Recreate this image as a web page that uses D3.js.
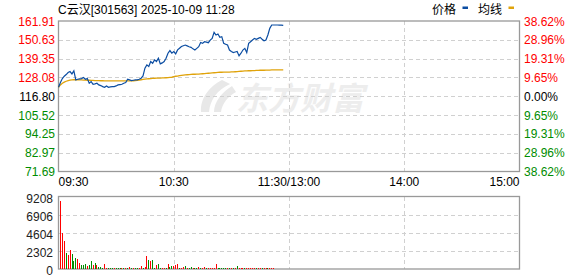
<!DOCTYPE html>
<html>
<head>
<meta charset="utf-8">
<script src="https://cdn.jsdelivr.net/npm/d3@7/dist/d3.min.js"></script>
<style>
  body { margin: 0; background: #fff; }
  svg text { font-family: "Liberation Sans", Arial, "Noto Sans CJK SC", sans-serif; font-size: 12px; }
</style>
</head>
<body>
<div id="chart"></div>
<script>
// C云汉 [301563] intraday chart, 2025-10-09 up to 11:28

const title = 'C云汉[301563] 2025-10-09 11:28';
const preClose = 116.80;

// price ticks (left) and percent ticks (right)
const priceTicks = [161.91, 150.63, 139.35, 128.08, 116.80, 105.52, 94.25, 82.97, 71.69];
const pctTicks = ['38.62%', '28.96%', '19.31%', '9.65%', '0.00%', '9.65%', '19.31%', '28.96%', '38.62%'];
const volTicks = [0, 2302, 4604, 6906, 9208];
const timeTicks = [
    { m: 0, label: '09:30', anchor: 'start' },
    { m: 60, label: '10:30', anchor: 'middle' },
    { m: 120, label: '11:30/13:00', anchor: 'middle' },
    { m: 180, label: '14:00', anchor: 'middle' },
    { m: 240, label: '15:00', anchor: 'end' }
];

// one value per minute from 09:30
const prices = [
    122.2, 125.0, 127.4, 128.8, 129.8, 131.0, 131.6, 130.2, 132.0, 126.6,
    127.0, 127.2, 127.4, 128.0, 127.0, 127.4, 124.6, 125.6, 124.0, 124.2,
    124.6, 123.6, 123.2, 122.6, 122.2, 123.0, 122.2, 122.4, 122.6, 122.6,
    123.0, 123.6, 123.8, 124.0, 124.6, 125.0, 127.0, 126.6, 126.2, 126.4,
    126.6, 126.6, 127.0, 127.6, 129.0, 133.6, 135.6, 134.6, 137.6, 136.6,
    138.6, 137.6, 139.6, 136.2, 136.8, 137.6, 139.6, 142.6, 144.2, 142.6,
    143.6, 142.2, 144.6, 145.6, 146.6, 147.1, 147.5, 147.0, 146.5, 146.1,
    145.2, 144.5, 145.5, 146.5, 149.0, 148.5, 149.5, 149.2, 148.9, 150.5,
    151.5, 155.1, 153.5, 154.1, 152.1, 152.5, 148.5, 148.0, 147.5, 144.5,
    143.6, 143.0, 143.3, 143.6, 141.0, 142.6, 144.5, 145.5, 143.0, 148.5,
    149.5, 150.5, 151.5, 150.9, 151.5, 152.1, 151.0, 150.1, 150.5, 153.5,
    157.5, 159.5, 159.5, 159.5, 159.5, 159.4, 159.4, 159.3
];

const avgPrices = [
    122.2, 123.6, 124.6, 125.3, 125.8, 126.2, 126.5, 126.6, 126.7, 126.7,
    126.7, 126.6, 126.6, 126.5, 126.5, 126.4, 126.4, 126.3, 126.3, 126.2,
    126.2, 126.2, 126.1, 126.1, 126.0, 126.0, 126.0, 126.0, 126.0, 126.0,
    126.0, 126.0, 126.0, 126.0, 126.0, 126.0, 126.0, 126.0, 126.0, 126.1,
    126.2, 126.3, 126.5, 126.7, 126.9, 127.1, 127.2, 127.3, 127.4, 127.5,
    127.6, 127.7, 127.7, 127.7, 127.8, 127.8, 127.9, 128.0, 128.1, 128.2,
    128.5, 128.8, 128.9, 129.1, 129.3, 129.5, 129.6, 129.7, 129.8, 129.9,
    130.0, 130.0, 130.1, 130.1, 130.2, 130.3, 130.4, 130.5, 130.6, 130.7,
    130.8, 130.9, 131.0, 131.1, 131.2, 131.2, 131.3, 131.3, 131.3, 131.3,
    131.4, 131.4, 131.5, 131.6, 131.7, 131.8, 131.9, 132.0, 132.0, 132.1,
    132.1, 132.2, 132.2, 132.3, 132.3, 132.4, 132.4, 132.4, 132.5, 132.5,
    132.5, 132.6, 132.6, 132.6, 132.6, 132.6, 132.6, 132.6
];

const volumes = [
    8640, 4530, 3520, 1990, 1740, 2370, 1860, 980, 1360, 1230,
    720, 470, 470, 590, 340, 470, 980, 470, 720, 470,
    210, 210, 120, 590, 90, 150, 120, 100, 110, 90,
    120, 100, 130, 150, 100, 180, 220, 140, 120, 100,
    100, 100, 340, 100, 260, 1610, 1100, 980, 1100, 100,
    470, 590, 100, 100, 100, 100, 590, 260, 340, 340,
    470, 590, 170, 100, 260, 340, 100, 100, 210, 100,
    100, 100, 210, 100, 100, 210, 100, 100, 100, 100,
    100, 590, 100, 100, 120, 100, 100, 100, 100, 100,
    120, 100, 380, 100, 100, 100, 100, 100, 100, 100,
    100, 100, 100, 100, 100, 100, 100, 100, 100, 100,
    100, 100, 0, 0, 0, 0, 0, 0
];

// R = up minute (red bar), G = down minute (green bar)
const volDir = 'RRRGRRGGGR' + 'RGGGRGGRGR' + 'GGGRRGGGRG' + 'GGRGRGRGRG' +
    'GRRGRRGRGG' + 'RGGRRGRGGR' + 'RRGRRGRGGR' + 'GGRGRRGRRR' +
    'RRGGGGGRGR' + 'GRGRRRGRRR' + 'RRGRRGRRGR' + 'RRRRRRRR';

const W = 578, H = 276;
const plot = { left: 58.5, right: 519.5, top: 21, bottom: 171.5 };
const vol = { top: 196.5, bottom: 269 };

const red = '#ff0000', green = '#008c00', gridColor = '#d0d0d0', borderColor = '#999';

const svg = d3.select('#chart').append('svg')
    .attr('width', W)
    .attr('height', H);

svg.append('rect').attr('width', W).attr('height', H).attr('fill', '#fff');

const x = d3.scaleLinear().domain([0, 240]).range([plot.left, plot.right]);
const y = d3.scaleLinear().domain([71.69, 161.91]).range([plot.bottom, plot.top]);
const yv = d3.scaleLinear().domain([0, 9208]).range([vol.bottom, vol.top]);

// watermark
const wm = svg.append('g').attr('fill', '#ededed');
wm.append('path')
    .attr('d', 'M222,80 C210,86 200,98 201,112 L209,112 C210,100 217,90 230,84 Z M232,86 C222,92 214,102 214,112 L221,112 C222,104 228,96 236,92 Z')
    .attr('fill', '#e8e8e8');
wm.append('text')
    .attr('x', 236).attr('y', 110)
    .style('font-family', '"Noto Sans CJK SC", sans-serif')
    .style('font-size', '32px')
    .style('font-weight', 'bold')
    .style('font-style', 'italic')
    .text('东方财富');

// grid lines - main
const grid = svg.append('g')
    .attr('stroke', gridColor)
    .attr('stroke-dasharray', '4,3')
    .attr('shape-rendering', 'crispEdges');

priceTicks.slice(1, -1).forEach(v => {
    grid.append('line')
        .attr('x1', plot.left).attr('x2', plot.right)
        .attr('y1', Math.round(y(v)) + 0.5).attr('y2', Math.round(y(v)) + 0.5);
});
[60, 120, 180].forEach(m => {
    grid.append('line')
        .attr('x1', Math.round(x(m)) + 0.5).attr('x2', Math.round(x(m)) + 0.5)
        .attr('y1', plot.top).attr('y2', plot.bottom);
    grid.append('line')
        .attr('x1', Math.round(x(m)) + 0.5).attr('x2', Math.round(x(m)) + 0.5)
        .attr('y1', vol.top).attr('y2', vol.bottom);
});
volTicks.slice(1, -1).forEach(v => {
    grid.append('line')
        .attr('x1', plot.left).attr('x2', plot.right)
        .attr('y1', Math.round(yv(v)) + 0.5).attr('y2', Math.round(yv(v)) + 0.5);
});

// borders
svg.append('rect')
    .attr('x', plot.left).attr('y', plot.top)
    .attr('width', plot.right - plot.left).attr('height', plot.bottom - plot.top)
    .attr('fill', 'none').attr('stroke', borderColor).attr('stroke-width', 1.3);
svg.append('rect')
    .attr('x', plot.left).attr('y', vol.top)
    .attr('width', plot.right - plot.left).attr('height', vol.bottom - vol.top)
    .attr('fill', 'none').attr('stroke', borderColor).attr('stroke-width', 1.3);

// average and price lines
const lineGen = d3.line()
    .x((d, i) => x(i))
    .y(d => y(d));

svg.append('path')
    .datum(avgPrices)
    .attr('d', lineGen)
    .attr('fill', 'none')
    .attr('stroke', '#e0a30b')
    .attr('stroke-width', 1.3);

svg.append('path')
    .datum(prices)
    .attr('d', lineGen)
    .attr('fill', 'none')
    .attr('stroke', '#0b4da2')
    .attr('stroke-width', 1.2);

// volume bars
svg.append('g')
    .attr('shape-rendering', 'crispEdges')
    .selectAll('rect')
    .data(volumes)
    .enter()
    .append('rect')
    .attr('x', (d, i) => Math.round(x(i) + 1.5))
    .attr('y', d => yv(d))
    .attr('width', 1)
    .attr('height', d => vol.bottom - yv(d))
    .attr('fill', (d, i) => volDir[i] === 'R' ? red : green);

// left price labels
svg.append('g').selectAll('text')
    .data(priceTicks)
    .enter()
    .append('text')
    .attr('x', 55)
    .attr('y', d => y(d) + 4.5)
    .attr('text-anchor', 'end')
    .attr('fill', d => d > preClose ? red : (d < preClose ? green : '#000'))
    .text(d => d.toFixed(2));

// right percent labels
svg.append('g').selectAll('text')
    .data(pctTicks)
    .enter()
    .append('text')
    .attr('x', 524)
    .attr('y', (d, i) => y(priceTicks[i]) + 4.5)
    .attr('fill', (d, i) => i < 4 ? red : (i > 4 ? green : '#000'))
    .text(d => d);

// volume labels
svg.append('g').selectAll('text')
    .data(volTicks)
    .enter()
    .append('text')
    .attr('x', 53)
    .attr('y', d => Math.min(yv(d) + 6.5, 274.5))
    .attr('text-anchor', 'end')
    .attr('fill', '#222')
    .text(d => d);

// time labels
svg.append('g').selectAll('text')
    .data(timeTicks)
    .enter()
    .append('text')
    .attr('x', d => x(d.m))
    .attr('y', 186)
    .attr('text-anchor', d => d.anchor)
    .attr('fill', '#000')
    .text(d => d.label);

// title
svg.append('text')
    .attr('x', 58)
    .attr('y', 13.5)
    .attr('fill', '#000')
    .text(title);

// legend
const legend = [
    { text: '价格', color: '#0b4da2', x: 432 },
    { text: '均线', color: '#e0a30b', x: 478 }
];
const lg = svg.append('g').selectAll('g')
    .data(legend)
    .enter()
    .append('g')
    .attr('transform', d => `translate(${d.x}, 0)`);
lg.append('text')
    .attr('y', 13.5)
    .attr('fill', '#000')
    .style('font-family', '"Noto Sans CJK SC", sans-serif')
    .text(d => d.text);
lg.append('rect')
    .attr('x', 30.5)
    .attr('y', 6.5)
    .attr('width', 5.5)
    .attr('height', 2.5)
    .attr('fill', d => d.color);
</script>
</body>
</html>
